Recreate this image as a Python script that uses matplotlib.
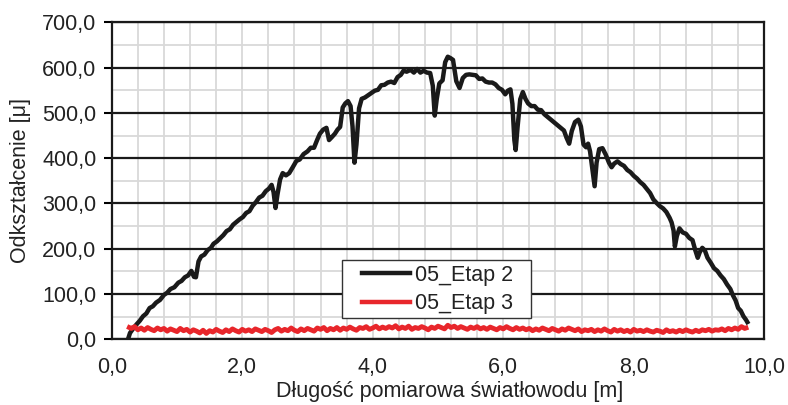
import matplotlib
matplotlib.use("Agg")
import matplotlib.pyplot as plt
from matplotlib.patches import Rectangle
from matplotlib.ticker import MultipleLocator, FuncFormatter

plt.rcParams['font.family'] = ['Liberation Sans', 'DejaVu Sans']

# 05_Etap 2 (black)
etap2_x = [0.26, 0.28, 0.32, 0.38, 0.43, 0.48, 0.53, 0.58, 0.63, 0.68, 0.74, 0.80, 0.85, 0.90,
           0.96, 1.02, 1.07, 1.12, 1.17, 1.22, 1.26, 1.29, 1.33, 1.37, 1.42, 1.47, 1.52, 1.56,
           1.61, 1.66, 1.71, 1.76, 1.81, 1.86, 1.91, 1.96, 2.01, 2.06, 2.11, 2.16, 2.21, 2.26,
           2.31, 2.36, 2.41, 2.45, 2.48, 2.51, 2.54, 2.58, 2.62, 2.67, 2.72, 2.77, 2.83, 2.88,
           2.94, 3.00, 3.05, 3.10, 3.15, 3.19, 3.24, 3.29, 3.33, 3.37, 3.42, 3.46, 3.50, 3.54,
           3.58, 3.62, 3.66, 3.69, 3.72, 3.75, 3.79, 3.83, 3.88, 3.93, 3.98, 4.03, 4.08, 4.13,
           4.18, 4.23, 4.28, 4.33, 4.38, 4.43, 4.47, 4.52, 4.58, 4.63, 4.68, 4.73, 4.78, 4.83,
           4.88, 4.92, 4.95, 4.98, 5.02, 5.07, 5.11, 5.15, 5.19, 5.23, 5.28, 5.33, 5.38, 5.43,
           5.48, 5.53, 5.58, 5.63, 5.68, 5.73, 5.78, 5.83, 5.88, 5.93, 5.98, 6.03, 6.07, 6.11,
           6.14, 6.17, 6.19, 6.22, 6.26, 6.30, 6.34, 6.38, 6.43, 6.48, 6.53, 6.58, 6.63, 6.68,
           6.73, 6.78, 6.83, 6.88, 6.93, 6.97, 7.01, 7.05, 7.10, 7.15, 7.19, 7.23, 7.27, 7.30,
           7.33, 7.37, 7.40, 7.43, 7.47, 7.52, 7.57, 7.62, 7.66, 7.70, 7.75, 7.80, 7.85, 7.90,
           7.95, 8.00, 8.05, 8.10, 8.15, 8.20, 8.25, 8.30, 8.35, 8.40, 8.45, 8.50, 8.55, 8.58,
           8.61, 8.63, 8.66, 8.70, 8.75, 8.80, 8.85, 8.90, 8.94, 8.98, 9.01, 9.05, 9.09, 9.13,
           9.18, 9.23, 9.28, 9.33, 9.38, 9.43, 9.48, 9.52, 9.56, 9.60, 9.64, 9.68, 9.72, 9.74]
etap2_y = [5, 14, 22, 33, 41, 51, 57, 69, 73, 81, 87, 98, 103, 111,
           115, 125, 129, 137, 141, 151, 138, 137, 172, 183, 187, 197, 202, 211,
           216, 223, 230, 239, 243, 253, 259, 265, 270, 279, 283, 295, 303, 313,
           317, 327, 333, 341, 325, 290, 320, 353, 367, 362, 367, 379, 394, 397,
           409, 415, 423, 423, 441, 454, 463, 467, 440, 446, 454, 463, 469, 512,
           521, 526, 515, 470, 390, 430, 510, 531, 534, 539, 544, 549, 551, 561,
           562, 567, 569, 566, 579, 584, 593, 591, 595, 589, 597, 589, 593, 589,
           588, 560, 494, 530, 565, 572, 612, 624, 621, 617, 570, 555, 577, 584,
           585, 584, 583, 575, 576, 569, 567, 567, 563, 555, 551, 541, 549, 552,
           520, 440, 418, 470, 530, 546, 531, 521, 515, 515, 507, 506, 497, 491,
           485, 479, 473, 467, 461, 445, 432, 460, 480, 485, 470, 430, 424, 432,
           415, 372, 338, 390, 420, 422, 408, 390, 380, 388, 393, 387, 383, 374,
           369, 361, 355, 347, 341, 332, 323, 309, 301, 294, 289, 281, 268, 258,
           240, 205, 228, 245, 236, 233, 224, 219, 198, 180, 192, 202, 196, 180,
           169, 157, 151, 141, 133, 121, 111, 97, 86, 69, 63, 51, 43, 38]

# 05_Etap 3 (red)
etap3_x = [0.27,
           0.30, 0.35, 0.40, 0.45, 0.50, 0.55, 0.60, 0.65, 0.70, 0.75,
           0.80, 0.85, 0.90, 0.95, 1.00, 1.05, 1.10, 1.15, 1.20, 1.25,
           1.30, 1.35, 1.40, 1.45, 1.50, 1.55, 1.60, 1.65, 1.70, 1.75,
           1.80, 1.85, 1.90, 1.95, 2.00, 2.05, 2.10, 2.15, 2.20, 2.25,
           2.30, 2.35, 2.40, 2.45, 2.50, 2.55, 2.60, 2.65, 2.70, 2.75,
           2.80, 2.85, 2.90, 2.95, 3.00, 3.05, 3.10, 3.15, 3.20, 3.25,
           3.30, 3.35, 3.40, 3.45, 3.50, 3.55, 3.60, 3.65, 3.70, 3.75,
           3.80, 3.85, 3.90, 3.95, 4.00, 4.05, 4.10, 4.15, 4.20, 4.25,
           4.30, 4.35, 4.40, 4.45, 4.50, 4.55, 4.60, 4.65, 4.70, 4.75,
           4.80, 4.85, 4.90, 4.95, 5.00, 5.05, 5.10, 5.15, 5.20, 5.25,
           5.30, 5.35, 5.40, 5.45, 5.50, 5.55, 5.60, 5.65, 5.70, 5.75,
           5.80, 5.85, 5.90, 5.95, 6.00, 6.05, 6.10, 6.15, 6.20, 6.25,
           6.30, 6.35, 6.40, 6.45, 6.50, 6.55, 6.60, 6.65, 6.70, 6.75,
           6.80, 6.85, 6.90, 6.95, 7.00, 7.05, 7.10, 7.15, 7.20, 7.25,
           7.30, 7.35, 7.40, 7.45, 7.50, 7.55, 7.60, 7.65, 7.70, 7.75,
           7.80, 7.85, 7.90, 7.95, 8.00, 8.05, 8.10, 8.15, 8.20, 8.25,
           8.30, 8.35, 8.40, 8.45, 8.50, 8.55, 8.60, 8.65, 8.70, 8.75,
           8.80, 8.85, 8.90, 8.95, 9.00, 9.05, 9.10, 9.15, 9.20, 9.25,
           9.30, 9.35, 9.40, 9.45, 9.50, 9.55, 9.60, 9.65, 9.70, 9.72]
etap3_y = [26,
           24, 28, 21, 25, 20, 26, 22, 19, 25, 21,
           24, 18, 23, 20, 17, 24, 19, 22, 16, 21,
           18, 14, 20, 13, 19, 16, 22, 18, 15, 21,
           17, 23, 19, 16, 22, 18, 21, 17, 23, 20,
           17, 22, 19, 15, 21, 24, 18, 22, 19, 25,
           20, 17, 23, 19, 24, 21, 18, 25, 22, 26,
           19, 24, 21, 26, 20, 25, 22, 27, 23, 20,
           26, 24, 28, 22, 25, 29, 23, 27, 24, 28,
           25, 30, 23, 27, 24, 29, 22, 26, 24, 28,
           25, 21, 27, 24, 29, 26, 23, 31, 26, 29,
           24, 28, 25, 22, 27, 24, 28, 23, 26, 22,
           27, 24, 21, 26, 23, 28, 24, 21, 26, 22,
           25, 21, 24, 19, 23, 20, 25, 22, 19, 24,
           21, 18, 23, 20, 25, 22, 19, 23, 17, 21,
           19, 22, 17, 21, 18, 23, 19, 16, 22, 18,
           21, 17, 20, 16, 22, 18, 20, 17, 21, 18,
           16, 20, 18, 15, 21, 17, 19, 16, 20, 17,
           21, 18, 16, 20, 17, 21, 19, 22, 18, 21,
           20, 23, 19, 24, 21, 25, 22, 28, 24, 25]

fs = 15.5

fig = plt.figure(figsize=(7.88, 4.05), dpi=100)
ax = fig.add_axes([0.1418, 0.1622, 0.8281, 0.7827])

ax.plot(etap2_x, etap2_y, color='#1a1a1a', lw=3.2, label='05_Etap 2', zorder=3)
ax.plot(etap3_x, etap3_y, color='#e8262b', lw=3.5, label='05_Etap 3', zorder=4)

ax.set_xlim(0, 10)
ax.set_ylim(0, 700)
ax.xaxis.set_major_locator(MultipleLocator(2))
ax.xaxis.set_minor_locator(MultipleLocator(0.4))
ax.yaxis.set_major_locator(MultipleLocator(100))
ax.yaxis.set_minor_locator(MultipleLocator(50))
fmt = FuncFormatter(lambda v, p: f"{v:.1f}".replace('.', ','))
ax.xaxis.set_major_formatter(fmt)
ax.yaxis.set_major_formatter(fmt)

ax.grid(which='minor', color='#d9d9d9', lw=1.3)
ax.grid(which='major', axis='x', color='#d9d9d9', lw=1.3)
ax.grid(which='major', axis='y', color='#1a1a1a', lw=1.6)
ax.set_axisbelow(True)

ax.tick_params(axis='y', which='major', length=6, width=1.5, pad=5, labelsize=fs,
               labelcolor='#222222')
ax.tick_params(axis='x', which='major', length=0, pad=13, labelsize=fs,
               labelcolor='#222222')
ax.tick_params(which='minor', length=0)
for s in ax.spines.values():
    s.set_linewidth(1.6)
    s.set_color('#1a1a1a')

ax.set_xlabel('Długość pomiarowa światłowodu [m]', fontsize=fs, labelpad=2, color='#222222')
ax.xaxis.label.set_x(0.518)
ax.set_ylabel('Odkształcenie [μ]', fontsize=fs, labelpad=8, color='#222222')

# legend box (frame drawn separately to get the wider side padding)
ax.add_patch(Rectangle((0.353, 0.067), 0.2895, 0.183, transform=ax.transAxes,
                       facecolor='white', edgecolor='#333333', lw=1.0, zorder=6))
leg = ax.legend(loc='center left', bbox_to_anchor=(0.3835, 0.157), fontsize=fs,
                frameon=False, handlelength=2.25, handletextpad=0.2, borderpad=0,
                labelspacing=0.35, borderaxespad=0)
leg.set_zorder(7)
for line in leg.get_lines():
    line.set_linewidth(3.2)
for t in leg.get_texts():
    t.set_color('#222222')

fig.savefig('out.png', dpi=100)
